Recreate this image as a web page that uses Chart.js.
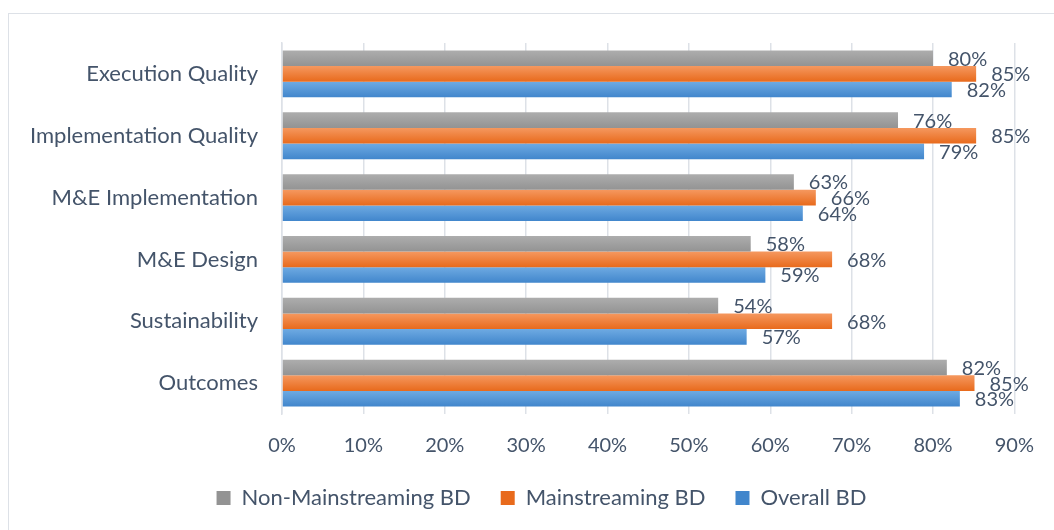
<!DOCTYPE html>
<html>
<head>
<meta charset="utf-8">
<script src="https://cdn.jsdelivr.net/npm/chart.js@4"></script>
<style>
  html, body { margin: 0; padding: 0; background: #fff; overflow: hidden; }
  .frame { position: absolute; left: 8px; top: 13px; width: 1100px; height: 600px; border: 1.5px solid #dde1e7; box-sizing: border-box; }
  .wrap { position: absolute; left: 0; top: 0; width: 1054px; height: 530px; }
</style>
</head>
<body>
<div class="frame"></div>
<div class="wrap"><canvas id="barChart"></canvas></div>
<script>
// categories top to bottom
const categories = [
  "Execution Quality",
  "Implementation Quality",
  "M&E Implementation",
  "M&E Design",
  "Sustainability",
  "Outcomes",
];

// values in percent
const nonMainstreaming = [80.0, 75.7, 62.9, 57.6, 53.6, 81.7];
const mainstreaming = [85.3, 85.3, 65.6, 67.6, 67.6, 85.1];
const overall = [82.3, 78.9, 64.0, 59.4, 57.1, 83.3];

const xTicks = [0, 10, 20, 30, 40, 50, 60, 70, 80, 90];

const textColor = "#44546a";
const fontFamily = "Lato, 'Open Sans', sans-serif";

// top/bottom colours of the bar gradients
const shades = [
  ["#adadad", "#939393"],
  ["#f5985f", "#e86a1c"],
  ["#6eaae2", "#4186cc"],
];

const gradientBars = {
  id: "gradientBars",
  beforeDatasetsDraw(chart) {
    const ctx = chart.ctx;
    chart.data.datasets.forEach((ds, i) => {
      const meta = chart.getDatasetMeta(i);
      meta.data.forEach((el) => {
        const top = el.y - el.height / 2;
        const g = ctx.createLinearGradient(0, top, 0, top + el.height);
        g.addColorStop(0, shades[i][0]);
        g.addColorStop(1, shades[i][1]);
        el.options = Object.assign({}, el.options, { backgroundColor: g });
      });
    });
  },
};

const valueLabels = {
  id: "valueLabels",
  afterDatasetsDraw(chart) {
    const ctx = chart.ctx;
    ctx.save();
    ctx.font = "20px " + fontFamily;
    ctx.fillStyle = textColor;
    ctx.textAlign = "left";
    ctx.textBaseline = "middle";
    chart.data.datasets.forEach((ds, i) => {
      const meta = chart.getDatasetMeta(i);
      meta.data.forEach((el, j) => {
        ctx.fillText(Math.round(ds.data[j]) + "%", el.x + 15, el.y + 1);
      });
    });
    ctx.restore();
  },
};

// the legend sits a little right of the plot's centre
const legendShift = {
  id: "legendShift",
  afterLayout(chart) {
    chart.legend.left += 32;
    chart.legend.right += 32;
  },
};

Chart.defaults.font.family = fontFamily;
Chart.defaults.color = textColor;

new Chart(document.getElementById("barChart"), {
  type: "bar",
  data: {
    labels: categories,
    datasets: [
      { label: "Non-Mainstreaming BD", data: nonMainstreaming, backgroundColor: shades[0][1] },
      { label: "Mainstreaming BD", data: mainstreaming, backgroundColor: shades[1][1] },
      { label: "Overall BD", data: overall, backgroundColor: shades[2][1] },
    ],
  },
  options: {
    indexAxis: "y",
    responsive: true,
    maintainAspectRatio: false,
    animation: false,
    layout: { padding: { left: 0, right: 35, top: 43, bottom: 11 } },
    datasets: {
      bar: { barPercentage: 1, categoryPercentage: 0.758, borderWidth: 0 },
    },
    plugins: {
      legend: {
        position: "bottom",
        labels: {
          boxWidth: 14,
          boxHeight: 14,
          padding: 30,
          font: { size: 22 },
          color: textColor,
        },
      },
      tooltip: { enabled: false },
    },
    scales: {
      x: {
        min: 0,
        max: 90,
        afterBuildTicks: (scale) => {
          scale.ticks = xTicks.map((v) => ({ value: v }));
        },
        afterFit: (scale) => {
          scale.height = 43;
        },
        ticks: {
          padding: 20,
          font: { size: 20 },
          color: textColor,
          callback: (value) => value + "%",
        },
        grid: { color: "#dde1e7", lineWidth: 1.5, drawTicks: false },
        border: { display: false },
      },
      y: {
        afterFit: (scale) => {
          scale.width = 282;
        },
        ticks: {
          padding: 24,
          font: { size: 22 },
          color: textColor,
        },
        grid: { display: false, drawTicks: false },
        border: { color: "#dde1e7", width: 1.5 },
      },
    },
  },
  plugins: [gradientBars, valueLabels, legendShift],
});
</script>
</body>
</html>
